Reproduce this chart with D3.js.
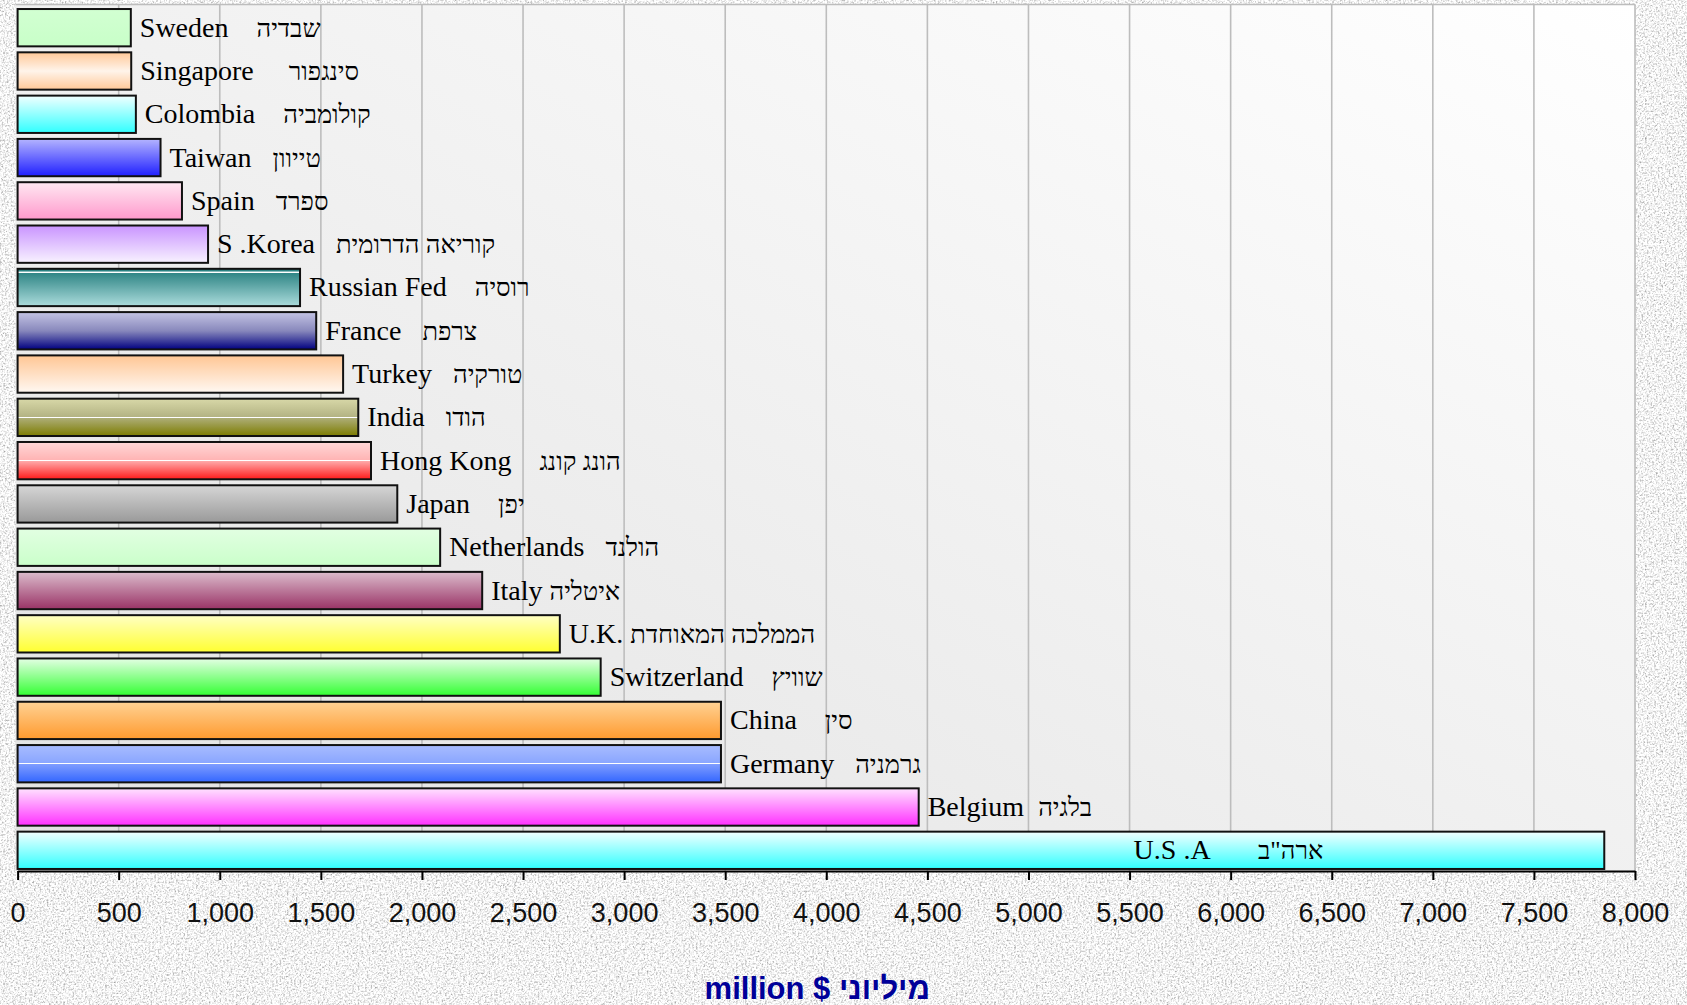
<!DOCTYPE html>
<html>
<head>
<meta charset="utf-8">
<script src="https://cdn.jsdelivr.net/npm/d3@7"></script>
<style>
  body { margin: 0; background: #e4e4e4; }
  svg { display: block; }
  .lbl { white-space: pre; }
</style>
</head>
<body>
<div id="chart"></div>
<script>
"use strict"

// data, top bar first
let countries = ["Sweden    שבדיה", "Singapore     סינגפור", "Colombia    קולומביה", "Taiwan   טייוון",
    "Spain   ספרד", "S .Korea   קוריאה הדרומית", "Russian Fed    רוסיה", "France   צרפת",
    "Turkey   טורקיה", "India   הודו", "Hong Kong    הונג קונג", "Japan    יפן",
    "Netherlands   הולנד", "Italy איטליה", "U.K. הממלכה המאוחדת", "Switzerland    שוויץ",
    "China    סין", "Germany   גרמניה", "Belgium  בלגיה", "U.S .A       ארה\"ב"];
let values = [560, 562, 585, 707, 813, 942, 1397, 1477, 1610, 1685,
    1748, 1878, 2090, 2298, 2682, 2884, 3479, 3479, 4457, 7848];
let tickValues = [0, 500, 1000, 1500, 2000, 2500, 3000, 3500, 4000, 4500, 5000, 5500, 6000, 6500, 7000, 7500, 8000];
let xMax = 8000;
let insideLabelAt = 5520; // USA label sits inside its bar
let axisTitle = "million $ מיליוני";

// gradient stops for each bar (top -> bottom)
let barStops = [
    [[0, "#d2ffd2"], [1, "#c8ffc8"]],
    [[0, "#ffc898"], [0.5, "#fff4ea"], [1, "#ffc898"]],
    [[0, "#f2ffff"], [1, "#30ffff"]],
    [[0, "#b4b4ff"], [1, "#1f1fff"]],
    [[0, "#ffe8f2"], [1, "#ff99cc"]],
    [[0, "#c994ff"], [1, "#f8f2ff"]],
    [[0, "#2a7e7e"], [0.07, "#2e8484"], [0.075, "#ffffff"], [0.1, "#ffffff"], [0.105, "#2f8585"], [1, "#acdcdc"]],
    [[0, "#c4c4e4"], [0.5, "#8888bc"], [1, "#000080"]],
    [[0, "#ffc694"], [1, "#fff8f2"]],
    [[0, "#d8d8a8"], [0.48, "#b4b484"], [0.485, "#ffffff"], [0.51, "#ffffff"], [0.515, "#aeae78"], [1, "#7c7c00"]],
    [[0, "#ffd8d8"], [0.48, "#ffb4b4"], [0.485, "#ffffff"], [0.51, "#ffffff"], [0.515, "#ffa8a8"], [1, "#ff1a1a"]],
    [[0, "#d6d6d6"], [1, "#999999"]],
    [[0, "#e2ffe2"], [1, "#caffca"]],
    [[0, "#dcbccc"], [1, "#993366"]],
    [[0, "#ffffc4"], [1, "#ffff30"]],
    [[0, "#e4ffe4"], [1, "#33ff33"]],
    [[0, "#ffd294"], [1, "#ff9a2e"]],
    [[0, "#a8bcff"], [0.48, "#8aa6ff"], [0.485, "#ffffff"], [0.51, "#ffffff"], [0.515, "#7e9cff"], [1, "#3366ff"]],
    [[0, "#ffe2ff"], [1, "#ff30ff"]],
    [[0, "#f2ffff"], [1, "#30ffff"]]
];

let width = 1687;
let height = 1005;
let plotLeft = 17.6, plotRight = 1635, plotTop = 4.5, plotBottom = 871;

let svg = d3.select("#chart")
    .append("svg")
    .attr("width", width)
    .attr("height", height);

let defs = svg.append("defs");

// stone-like texture for the page background
let noise = defs.append("filter")
    .attr("id", "stone")
    .attr("x", 0).attr("y", 0).attr("width", "100%").attr("height", "100%");
noise.append("feTurbulence")
    .attr("type", "fractalNoise")
    .attr("baseFrequency", 0.55)
    .attr("numOctaves", 3)
    .attr("seed", 4);
noise.append("feColorMatrix")
    .attr("type", "matrix")
    .attr("values", "1.4 0 0 0 0.2  1.4 0 0 0 0.2  1.4 0 0 0 0.2  0 0 0 0 1");

let plotGrad = defs.append("linearGradient")
    .attr("id", "plotBg")
    .attr("x1", 1).attr("y1", 0).attr("x2", 0).attr("y2", 1);
plotGrad.append("stop").attr("offset", 0).attr("stop-color", "#ffffff");
plotGrad.append("stop").attr("offset", 1).attr("stop-color", "#e2e2e2");

barStops.forEach(function(stops, i) {
    let g = defs.append("linearGradient")
        .attr("id", "bar" + i)
        .attr("x1", 0).attr("y1", 0).attr("x2", 0).attr("y2", 1);
    stops.forEach(function(s) {
        g.append("stop").attr("offset", s[0]).attr("stop-color", s[1]);
    });
});

svg.append("rect")
    .attr("width", width)
    .attr("height", height)
    .attr("filter", "url(#stone)");

let x = d3.scaleLinear()
    .domain([0, xMax])
    .range([plotLeft, plotRight]);

let y = d3.scaleBand()
    .domain(d3.range(values.length))
    .range([plotTop + 1.5, plotBottom + 1])
    .paddingInner(0.138)
    .paddingOuter(0.07);

// plot area
svg.append("rect")
    .attr("x", plotLeft - 2)
    .attr("y", plotTop)
    .attr("width", plotRight - plotLeft + 2)
    .attr("height", plotBottom - plotTop)
    .attr("fill", "url(#plotBg)");

svg.append("g")
    .selectAll("line")
    .data(tickValues.filter(d => d > 0))
    .join("line")
    .attr("x1", d => x(d))
    .attr("x2", d => x(d))
    .attr("y1", plotTop)
    .attr("y2", plotBottom)
    .attr("stroke", "#bdbdbd")
    .attr("stroke-width", 1.6);

svg.append("line")
    .attr("x1", plotLeft - 2)
    .attr("x2", plotRight)
    .attr("y1", plotTop)
    .attr("y2", plotTop)
    .attr("stroke", "#bdbdbd")
    .attr("stroke-width", 1.6);

// bars
svg.append("g")
    .selectAll("rect")
    .data(values)
    .join("rect")
    .attr("x", x(0))
    .attr("y", (d, i) => y(i))
    .attr("width", d => x(d) - x(0))
    .attr("height", y.bandwidth())
    .attr("fill", (d, i) => "url(#bar" + i + ")")
    .attr("stroke", "#111")
    .attr("stroke-width", 2);

// labels: latin part then hebrew part (hebrew glyphs run a bit wide, so set smaller)
function splitLabel(s) {
    let k = s.search(/[\u0590-\u05FF]/);
    return [s.slice(0, k), s.slice(k)];
}

let labels = svg.append("g")
    .selectAll("text")
    .data(values)
    .join("text")
    .attr("class", "lbl")
    .attr("x", d => d > insideLabelAt ? x(insideLabelAt) : x(d) + 9)
    .attr("y", (d, i) => y(i) + y.bandwidth() / 2)
    .attr("dy", 9)
    .attr("font-family", "'Liberation Serif', 'Times New Roman', serif")
    .attr("font-size", 28)
    .attr("fill", "#000");

labels.append("tspan")
    .text((d, i) => splitLabel(countries[i])[0]);
labels.append("tspan")
    .attr("font-size", 25.5)
    .text((d, i) => splitLabel(countries[i])[1]);

// x axis
let axis = svg.append("g")
    .attr("transform", "translate(0," + plotBottom + ")")
    .call(d3.axisBottom(x)
        .tickValues(tickValues)
        .tickFormat(d3.format(","))
        .tickSize(9)
        .tickSizeOuter(0)
        .tickPadding(23));

axis.select(".domain")
    .attr("stroke", "#000")
    .attr("stroke-width", 2);
axis.selectAll(".tick line")
    .attr("stroke", "#000")
    .attr("stroke-width", 2);
axis.selectAll(".tick text")
    .attr("font-family", "'Liberation Sans', Arial, sans-serif")
    .attr("font-size", 27)
    .attr("fill", "#111");

svg.append("text")
    .attr("x", (x(0) + x(xMax)) / 2 - 9)
    .attr("y", 999)
    .attr("text-anchor", "middle")
    .attr("font-family", "'Liberation Sans', Arial, sans-serif")
    .attr("font-weight", "bold")
    .attr("font-size", 31)
    .attr("fill", "#000099")
    .text(axisTitle);
</script>
</body>
</html>
